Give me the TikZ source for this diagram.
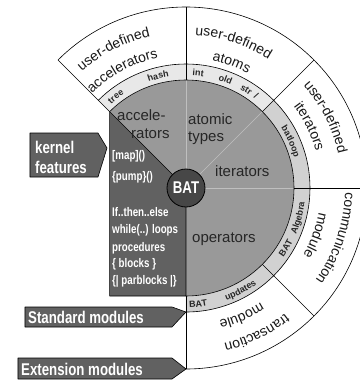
\documentclass[tikz,border=0pt]{standalone}
\usepackage{fontspec}
\setmainfont{Liberation Sans}
\newfontfamily\condfont[FakeStretch=0.78]{Liberation Sans}
\usetikzlibrary{decorations.text}

% radii of the gray disc, the thin label band and the outer ring
\def\Ra{108}
\def\Rb{124}
\def\Rc{181}

% text set along an arc centred on angle #1 at baseline radius #2;
% cw: letters stand outward, ccw: letters stand inward
\newcommand\cwtext[4]{%
  \path[decorate, decoration={text along path, text align=center, text={|#3|#4}}]
    (#1+45:#2) arc[start angle=#1+45, end angle=#1-45, radius=#2];}
\newcommand\ccwtext[4]{%
  \path[decorate, decoration={text along path, text align=center, text={|#3|#4}}]
    (#1-45:#2) arc[start angle=#1-45, end angle=#1+45, radius=#2];}

\newcommand\ringfont{\fontsize{14}{14}\selectfont\color{black!90}}
\newcommand\bandfont{\bfseries\fontsize{9}{9}\selectfont\color{black!85}}

\begin{document}
\begin{tikzpicture}[x=1pt, y=1pt, line join=round,
  ring/.style={draw=black, line width=0.6pt},
  faint/.style={draw=white!75!black, line width=0.6pt},
  sectorlabel/.style={anchor=base west, inner sep=0pt, text=black!85,
    font=\fontsize{15}{15}\selectfont},
  kerneltext/.style={anchor=base west, inner sep=0pt, text=white,
    font=\condfont\bfseries\fontsize{12.5}{12.5}\selectfont},
  banner/.style={fill=black!62, draw=black, line width=0.6pt},
  bannertext/.style={anchor=base west, inner sep=0pt, text=white,
    font=\condfont\bfseries\fontsize{17}{17}\selectfont},
]
\clip (-186,-193) rectangle (174,188);
\fill[white] (-186,-193) rectangle (174,188);

% gray disc with its four sectors
\fill[black!40] (0,0) -- (135:\Ra) arc[start angle=135, end angle=-90, radius=\Ra] -- cycle;
% label band
\fill[black!9] (135:\Ra) arc[start angle=135, end angle=45, radius=\Ra]
  -- (45:\Rb) arc[start angle=45, end angle=135, radius=\Rb] -- cycle;
\fill[black!18] (45:\Ra) arc[start angle=45, end angle=-90, radius=\Ra]
  -- (-90:\Rb) arc[start angle=-90, end angle=45, radius=\Rb] -- cycle;
% kernel block
\fill[black!62] (135:\Ra) |- (0,-\Ra) -- (0,0) -- cycle;

% borders
\foreach \a in {90,45,0} \draw[faint] (0,0) -- (\a:\Ra);
\draw[ring] (135:\Ra) arc[start angle=135, end angle=-90, radius=\Ra];
\draw[ring] (135:\Rb) arc[start angle=135, end angle=-90, radius=\Rb];
\draw[ring] (135:\Rc) arc[start angle=135, end angle=-90, radius=\Rc];
\foreach \a in {135,90,45,0,-45,-90} \draw[ring] (\a:\Ra) -- (\a:\Rc);
\draw[ring] (135:\Ra) |- (0,-\Ra) -- (0,0) -- cycle;

% sector labels
\node[sectorlabel] (acc1) at (-69,68) {accele-};
\node[sectorlabel] (acc2) at (-55,50) {rators};
\node[sectorlabel] (atm1) at (2,64) {atomic};
\node[sectorlabel] (atm2) at (2,47) {types};
\node[sectorlabel] (itr) at (29,12) {iterators};
\node[sectorlabel] (opr) at (6,-54) {operators};

% kernel features
\node[kerneltext] (k1) at (-74,28.5) {[map]()};
\node[kerneltext] (k2) at (-74,7.5) {\{pump\}()};
\node[kerneltext] (k3) at (-74,-28.5) {If..then..else};
\node[kerneltext] (k4) at (-74,-45.5) {while(..) loops};
\node[kerneltext] (k5) at (-74,-63) {procedures};
\node[kerneltext] (k6) at (-74,-79.5) {\{ blocks \}};
\node[kerneltext] (k7) at (-74,-96.5) {\{| parblocks |\}};

% core
\node[circle, minimum size=38pt, inner sep=0pt, fill=black!72, draw=black, line width=0.8pt,
  text=white, font=\condfont\bfseries\fontsize{17}{17}\selectfont] (bat) at (0,0) {BAT};

% band labels
\cwtext{127.5}{112.5}{\bandfont}{tree}
\cwtext{104}{112.5}{\bandfont}{hash}
\cwtext{84}{112.5}{\bandfont}{int}
\cwtext{70}{112.5}{\bandfont}{old}
\cwtext{58.5}{112.5}{\bandfont}{str}
\cwtext{52.5}{112.5}{\bandfont}{/}
\cwtext{24}{112.5}{\bandfont}{batloop}
\ccwtext{-31}{119.5}{\bandfont}{BAT}
\ccwtext{-15}{119.5}{\bandfont}{Algebra}
\ccwtext{-84}{119.5}{\bandfont}{BAT}
\ccwtext{-62}{119.5}{\bandfont}{updates}

% outer ring labels
\cwtext{117.5}{156}{\ringfont}{user-defined}
\cwtext{118.5}{133}{\ringfont}{accelerators}
\cwtext{72}{153}{\ringfont}{user-defined}
\cwtext{70}{130}{\ringfont}{atoms}
\cwtext{27}{156}{\ringfont}{user-defined}
\cwtext{26.5}{135}{\ringfont}{iterators}
\cwtext{-18.5}{159}{\ringfont}{communication}
\cwtext{-20}{135}{\ringfont}{module}
\cwtext{-64}{160}{\ringfont}{transaction}
\cwtext{-66.5}{137}{\ringfont}{module}

% pointers
\draw[banner] (-156,55) -- (-88,55) -- (-79,40) -- (-88,11) -- (-156,11) -- cycle;
\node[bannertext] (kf1) at (-151,35) {kernel};
\node[bannertext] (kf2) at (-151,15) {features};
\draw[banner] (-161,-119) -- (-14,-119) -- (0,-124) -- (-14,-139) -- (-161,-139) -- cycle;
\node[bannertext] (std) at (-158,-135) {Standard modules};
\draw[banner] (-168,-170) -- (-14,-170) -- (0,-181) -- (-14,-191) -- (-168,-191) -- cycle;
\node[bannertext] (ext) at (-165,-187) {Extension modules};
\end{tikzpicture}
\end{document}
